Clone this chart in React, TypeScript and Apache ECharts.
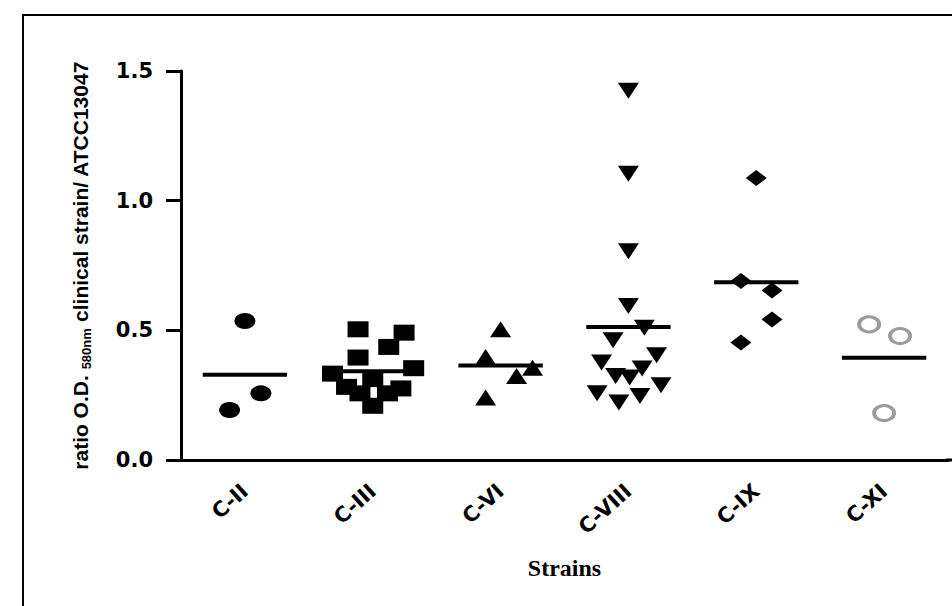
import React, { useEffect, useRef } from "react";
import * as echarts from "echarts";

const categories = ["C-II", "C-III", "C-VI", "C-VIII", "C-IX", "C-XI"];
const yTicks = [0, 0.5, 1.0, 1.5];

const valuesCII = [0.536, 0.257, 0.193];
const jitterCII = [0, 0.125, -0.12];

const valuesCIII = [0.504, 0.491, 0.436, 0.395, 0.354, 0.333, 0.312, 0.282, 0.276, 0.257, 0.257, 0.209];
const jitterCIII = [-0.115, 0.245, 0.125, -0.115, 0.32, -0.315, 0, -0.205, 0.22, -0.1, 0.115, 0];

const valuesCVI = [0.504, 0.397, 0.356, 0.324, 0.241];
const jitterCVI = [0, -0.117, 0.25, 0.125, -0.117];

const valuesCVIII = [1.424, 1.104, 0.805, 0.594, 0.51, 0.462, 0.404, 0.376, 0.353, 0.324, 0.318, 0.288, 0.257, 0.247, 0.222];
const jitterCVIII = [0, 0, 0, 0, 0.125, -0.12, 0.22, -0.21, 0.107, -0.1, 0.01, 0.255, -0.245, 0.09, -0.075];

const valuesCIX = [1.087, 0.69, 0.654, 0.542, 0.453];
const jitterCIX = [0, -0.12, 0.123, 0.123, -0.12];

const valuesCXI = [0.523, 0.478, 0.181];
const jitterCXI = [-0.117, 0.125, 0];

const groupValues = [valuesCII, valuesCIII, valuesCVI, valuesCVIII, valuesCIX, valuesCXI];
const groupJitter = [jitterCII, jitterCIII, jitterCVI, jitterCVIII, jitterCIX, jitterCXI];

const markerStyles = [
  { symbol: "circle", rotate: 0, hollow: false },
  { symbol: "rect", rotate: 0, hollow: false },
  { symbol: "triangle", rotate: 0, hollow: false },
  { symbol: "triangle", rotate: 180, hollow: false },
  { symbol: "diamond", rotate: 0, hollow: false },
  { symbol: "circle", rotate: 0, hollow: true },
];

function buildOption() {
  const series: any[] = [];
  groupValues.forEach((vals, i) => {
    const st = markerStyles[i];
    series.push({
      type: "scatter",
      name: categories[i],
      xAxisIndex: 1,
      yAxisIndex: 0,
      symbol: st.symbol,
      symbolRotate: st.rotate,
      symbolSize: st.hollow ? [20, 15] : [21, 16],
      itemStyle: st.hollow
        ? { color: "#ffffff", borderColor: "#9c9c9c", borderWidth: 3.5, opacity: 1 }
        : { color: "#000000", opacity: 1 },
      z: 2,
      data: vals.map((v, k) => [i + groupJitter[i][k], v]),
    });
    const mean = vals.reduce((a, b) => a + b, 0) / vals.length;
    series.push({
      type: "line",
      xAxisIndex: 1,
      yAxisIndex: 0,
      symbol: "none",
      lineStyle: { color: "#000000", width: 4 },
      z: 3,
      data: [
        [i - 0.33, mean],
        [i + 0.33, mean],
      ],
    });
  });

  return {
    animation: false,
    backgroundColor: "#ffffff",
    grid: { left: 181, right: 4, top: 71, bottom: 146 },
    graphic: [
      {
        type: "rect",
        shape: { x: 23, y: 15, width: 1000, height: 700 },
        style: { fill: "none", stroke: "#000000", lineWidth: 2 },
        silent: true,
      },
      {
        type: "line",
        shape: { x1: 946, y1: 460, x2: 953, y2: 460 },
        style: { stroke: "#000000", lineWidth: 3 },
        silent: true,
      },
    ],
    xAxis: [
      {
        type: "category",
        data: categories,
        boundaryGap: true,
        axisLine: { onZero: false, lineStyle: { color: "#000000", width: 3 } },
        axisTick: { alignWithLabel: true, length: 10, lineStyle: { color: "#000000", width: 3 } },
        axisLabel: {
          rotate: 42,
          margin: 28,
          color: "#000000",
          fontFamily: "DejaVu Sans",
          fontWeight: "bold",
          fontSize: 21,
        },
        splitLine: { show: false },
        name: "Strains",
        nameLocation: "middle",
        nameGap: 96,
        nameTextStyle: {
          color: "#000000",
          fontFamily: "Liberation Serif",
          fontWeight: "bold",
          fontSize: 24,
        },
      },
      {
        type: "value",
        min: -0.5,
        max: 5.5,
        show: false,
        axisLine: { onZero: false },
        splitLine: { show: false },
      },
    ],
    yAxis: {
      type: "value",
      min: yTicks[0],
      max: yTicks[yTicks.length - 1],
      interval: 0.5,
      axisLine: { show: true, onZero: false, lineStyle: { color: "#000000", width: 3 } },
      axisTick: { show: true, length: 15, lineStyle: { color: "#000000", width: 3 } },
      axisLabel: {
        margin: 28,
        color: "#000000",
        fontFamily: "DejaVu Sans",
        fontWeight: "bold",
        fontSize: 21,
        formatter: (v: number) => v.toFixed(1),
      },
      splitLine: { show: false },
      name: "{a|ratio O.D. }{s|580nm}{a| clinical strain/ ATCC13047}",
      nameLocation: "middle",
      nameGap: 88,
      nameRotate: 90,
      nameTextStyle: {
        color: "#000000",
        rich: {
          a: {
            fontFamily: "Liberation Sans",
            fontWeight: "bold",
            fontSize: 21,
            color: "#000000",
            lineHeight: 26,
            verticalAlign: "middle",
          },
          s: {
            fontFamily: "Liberation Sans",
            fontWeight: "bold",
            fontSize: 13,
            color: "#000000",
            lineHeight: 26,
            verticalAlign: "bottom",
          },
        },
      },
    },
    series,
  };
}

export default function App() {
  const ref = useRef<HTMLDivElement>(null);
  useEffect(() => {
    if (!ref.current) return;
    const chart = echarts.init(ref.current, null, { renderer: "svg" });
    chart.setOption(buildOption() as any);
    return () => chart.dispose();
  }, []);
  return (
    <div
      ref={ref}
      style={{ position: "fixed", left: 0, top: 0, width: 952, height: 606, background: "#ffffff" }}
    />
  );
}
